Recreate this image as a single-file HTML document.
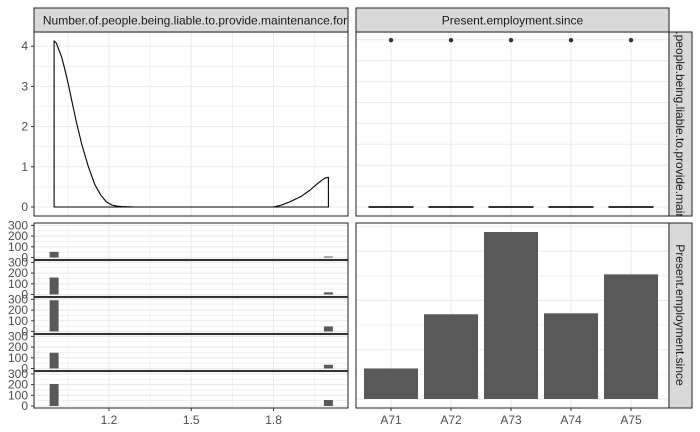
<!DOCTYPE html>
<html><head><meta charset="utf-8"><style>
body{margin:0;background:#fff}
svg{display:block;font-family:"Liberation Sans",Arial,sans-serif}
</style></head><body>
<svg id="c" width="700" height="432"></svg>
<script>
const densX=[1,1.008,1.015,1.028,1.04,1.052,1.064,1.08,1.1,1.125,1.149,1.17,1.19,1.21,1.23,1.246,1.3,1.8,1.83,1.86,1.9,1.933,1.96,1.975,1.988,2];
const densY=[4.13,4.08,3.95,3.72,3.4,3.05,2.66,2.15,1.58,1.0,0.55,0.3,0.13,0.05,0.02,0.01,0,0,0.05,0.13,0.26,0.42,0.58,0.66,0.72,0.74];
const categories=["A71","A72","A73","A74","A75"];
const counts=[62,172,339,174,253];
const histLow=[53,159,292,147,206];
const histHigh=[9,20,47,35,56];
const boxY=[0,0,0,0,0];
const outlierY=[4.15,4.15,4.15,4.15,4.15];
const xTicks=[1.2,1.5,1.8];
const densTicks=[0,1,2,3,4];
const histTicks=[0,100,200,300];

const NS="http://www.w3.org/2000/svg";
const svg=document.getElementById('c');
function el(tag,attrs,parent){const e=document.createElementNS(NS,tag);for(const k in attrs)e.setAttribute(k,attrs[k]);(parent||svg).appendChild(e);return e;}
function txt(s,attrs,parent){const e=el('text',attrs,parent);e.textContent=s;return e;}

const L0=34,L1=348,R0=356,R1=669;
const xs=v=>54.1+(v-1)*274.3;
const yd=v=>207-v*40.2;
const cx=i=>391+i*60;

const defs=el('defs',{});
const cp1=el('clipPath',{id:'cs1'},defs);el('rect',{x:L0,y:8,width:L1-L0,height:24},cp1);
const cp2=el('clipPath',{id:'cs2'},defs);el('rect',{x:669,y:32,width:23,height:184},cp2);

let g=el('g',{});

for(let v=0;v<=4.5;v+=0.5){el('line',{x1:L0,x2:L1,y1:yd(v),y2:yd(v),stroke:'#ebebeb','stroke-width':v%1?0.6:1.1},g);}
[1.05,1.35,1.65,1.95].forEach(v=>el('line',{x1:xs(v),x2:xs(v),y1:32,y2:216,stroke:'#ebebeb','stroke-width':0.6},g));
xTicks.forEach(v=>el('line',{x1:xs(v),x2:xs(v),y1:32,y2:216,stroke:'#ebebeb','stroke-width':1.1},g));
let pts=[[xs(1),yd(0)]];densX.forEach((x,i)=>pts.push([xs(x),yd(densY[i])]));pts.push([xs(2),yd(0)]);
let d=el('polygon',{points:pts.map(p=>p.join(',')).join(' '),fill:'none',stroke:'#000','stroke-width':1.1,'stroke-linejoin':'round'},g);

el('rect',{x:L0,y:32,width:L1-L0,height:184,fill:'none',stroke:'#333','stroke-width':1.1},g);
densTicks.forEach(v=>{el('line',{x1:L0-3,x2:L0,y1:yd(v),y2:yd(v),stroke:'#333'},g);
 const t=txt(v,{x:L0-6,y:yd(v)+4,'text-anchor':'end','font-size':12,fill:'#4d4d4d'},g);
 });
el('rect',{x:L0,y:8,width:L1-L0,height:24,fill:'#d9d9d9',stroke:'#333','stroke-width':1.1});
let st=txt('Number.of.people.being.liable.to.provide.maintenance.for',{x:(L0+L1)/2+4,y:24.5,'text-anchor':'middle','font-size':12,fill:'#1a1a1a','clip-path':'url(#cs1)'});


g=el('g',{});

for(let k=0;k<9;k++){const y=207-k*20.9;el('line',{x1:R0,x2:R1,y1:y,y2:y,stroke:'#ebebeb','stroke-width':1},g);}
categories.forEach((c,i)=>el('line',{x1:cx(i),x2:cx(i),y1:32,y2:216,stroke:'#ebebeb','stroke-width':1.1},g));
categories.forEach((c,i)=>{
 const b=el('line',{x1:cx(i)-22.5,x2:cx(i)+22.5,y1:yd(boxY[i]),y2:yd(boxY[i]),stroke:'#333','stroke-width':2},g);
 
 const o=el('circle',{cx:cx(i),cy:yd(outlierY[i]),r:2.2,fill:'#333'},g);
 
});
el('rect',{x:R0,y:32,width:R1-R0,height:184,fill:'none',stroke:'#333','stroke-width':1.1},g);
el('rect',{x:R0,y:8,width:R1-R0,height:24,fill:'#d9d9d9',stroke:'#333','stroke-width':1.1});
st=txt('Present.employment.since',{x:(R0+R1)/2,y:24.5,'text-anchor':'middle','font-size':12,fill:'#1a1a1a'});

el('rect',{x:669,y:32,width:23,height:184,fill:'#d9d9d9',stroke:'#333','stroke-width':1.1});
st=txt('Number.of.people.being.liable.to.provide.maintenance.for',{x:0,y:0,'text-anchor':'middle','font-size':12,fill:'#1a1a1a',transform:'translate(676,128) rotate(90)'});
const gc=el('g',{'clip-path':'url(#cs2)'});gc.appendChild(st);


const panels=[[223,259.5],[260.5,296.5],[297.5,333.5],[334.5,370.5],[371.5,408]];
panels.forEach((p,i)=>{
 const [t,b]=p;const zero=b-2;const s=(v)=>zero-v*0.107;
 const pg=el('g',{});
 
 for(let v=0;v<=300;v+=50){const y=s(v);if(y>t)el('line',{x1:L0,x2:L1,y1:y,y2:y,stroke:'#ebebeb','stroke-width':v%100?0.6:1.1},pg);}
 [1.05,1.35,1.65,1.95].forEach(v=>el('line',{x1:xs(v),x2:xs(v),y1:t,y2:b,stroke:'#ebebeb','stroke-width':0.6},pg));
 xTicks.forEach(v=>el('line',{x1:xs(v),x2:xs(v),y1:t,y2:b,stroke:'#ebebeb','stroke-width':1.1},pg));
 [[1,histLow[i]],[2,histHigh[i]]].forEach(([x,v],j)=>{
  const top=Math.max(t,s(v));
  const r=el('rect',{x:xs(x)-4.5,y:top,width:9,height:zero-top,fill:'#595959'},pg);
  
 });
 el('rect',{x:L0,y:t,width:L1-L0,height:b-t,fill:'none',stroke:'#333','stroke-width':1.1},pg);
 histTicks.forEach(v=>{el('line',{x1:L0-3,x2:L0,y1:s(v),y2:s(v),stroke:'#333'},pg);
  const tk=txt(v,{x:L0-6,y:s(v)+4,'text-anchor':'end','font-size':12,fill:'#4d4d4d'},pg);
  });
});
xTicks.forEach(v=>{el('line',{x1:xs(v),x2:xs(v),y1:408,y2:411,stroke:'#333'});
 const t=txt(v.toFixed(1),{x:xs(v),y:424,'text-anchor':'middle','font-size':12,fill:'#4d4d4d'});
 });

g=el('g',{});

const yb=v=>399-v*0.4926;
for(let v=0;v<=350;v+=50)el('line',{x1:R0,x2:R1,y1:yb(v),y2:yb(v),stroke:'#ebebeb','stroke-width':v%100?0.6:1.1},g);
categories.forEach((c,i)=>el('line',{x1:cx(i),x2:cx(i),y1:223,y2:408,stroke:'#ebebeb','stroke-width':1.1},g));
categories.forEach((c,i)=>{
 const r=el('rect',{x:cx(i)-27,y:yb(counts[i]),width:54,height:yb(0)-yb(counts[i]),fill:'#595959'},g);
 
 el('line',{x1:cx(i),x2:cx(i),y1:408,y2:411,stroke:'#333'});
 const t=txt(c,{x:cx(i),y:424,'text-anchor':'middle','font-size':12,fill:'#4d4d4d'});
 
});
el('rect',{x:R0,y:223,width:R1-R0,height:185,fill:'none',stroke:'#333','stroke-width':1.1},g);
el('rect',{x:669,y:223,width:23,height:185,fill:'#d9d9d9',stroke:'#333','stroke-width':1.1});
st=txt('Present.employment.since',{x:0,y:0,'text-anchor':'middle','font-size':12,fill:'#1a1a1a',transform:'translate(676,315) rotate(90)'});

</script>
</body></html>
